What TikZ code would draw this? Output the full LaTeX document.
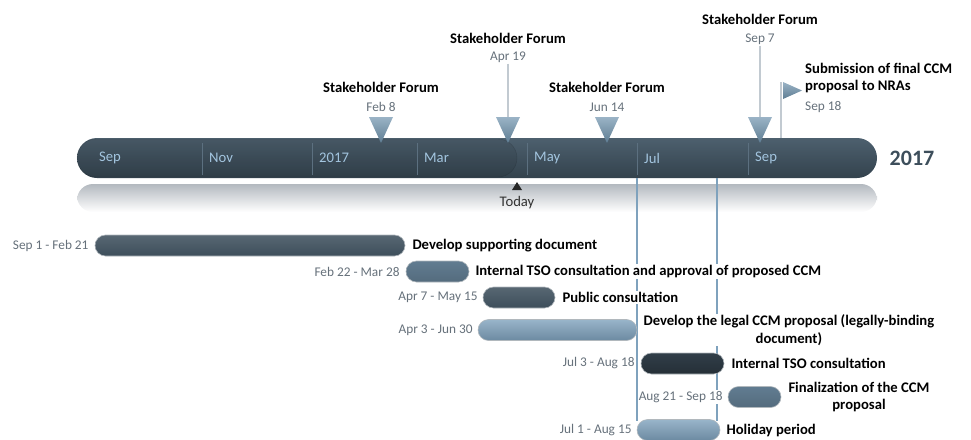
\documentclass[tikz,border=0pt]{standalone}
\usepackage{fontspec}
\setmainfont{Carlito}
\usetikzlibrary{shapes.misc}

\definecolor{slate}{HTML}{3D4E5B}
\definecolor{slatetop}{HTML}{4D606E}
\definecolor{slatebot}{HTML}{33424D}
\definecolor{monthblue}{HTML}{A3C5DF}
\definecolor{divline}{HTML}{5C7080}
\definecolor{marker}{HTML}{6F93AD}
\definecolor{stemgray}{HTML}{C2CAD1}
\definecolor{dategray}{HTML}{66717B}
\definecolor{holblue}{HTML}{7FA2BD}
\definecolor{reflgray}{HTML}{B3B9BF}

\begin{document}
\begin{tikzpicture}[x=1pt,y=-1pt,
  every node/.style={font=\fontsize{14.67}{17.6}\selectfont},
  pill/.style={shape=rounded rectangle,minimum height=21,inner sep=0,draw=white!60!slate,line width=0.6pt},
  darkbar/.style={pill,top color=black!10!slatetop!90!white,bottom color=slate},
  midbar/.style={pill,top color=holblue!55!slate,bottom color=holblue!35!slate},
  lightbar/.style={pill,top color=holblue!80!white,bottom color=holblue!85!black},
  deepbar/.style={pill,top color=slate!80!black,bottom color=slate!60!black},
  datetxt/.style={font=\fontsize{13.3}{16}\selectfont,text=dategray,fill=white,inner sep=1pt},
  task/.style={font=\fontsize{14.67}{17.6}\selectfont\bfseries,fill=white,inner sep=1pt,align=center},
  forum/.style={font=\fontsize{14.67}{17.6}\selectfont\bfseries,inner sep=0},
  stem/.style={draw=stemgray,line width=1.5pt},
  holline/.style={draw=holblue,line width=1.5pt}]
\useasboundingbox (0,0) rectangle (971,439);

% reflection under the time line
\shade[top color=reflgray,bottom color=white,rounded corners=16] (77,184) rectangle (877,212);

% time line
\node (line) at (477,158) [shape=rounded rectangle,minimum width=800,minimum height=40,inner sep=0,
  top color=slatetop,bottom color=slatebot] {};
\node (past) at (297,158) [shape=rounded rectangle,minimum width=440,minimum height=38,inner sep=0,
  fill=black,fill opacity=0.08,draw=black,draw opacity=0.15] {};
\foreach \x/\m in {92/Sep,202/Nov,312/2017,417/Mar,527/May,637/Jul,748/Sep} {
  \ifnum\x>100 \draw[divline,line width=0.8pt] (\x,143) -- (\x,175); \fi
  \node at (\x+7,158) [anchor=west,inner sep=0,text=monthblue] {\m};
}
\node (year) at (912,158) [font=\fontsize{22}{26}\selectfont\bfseries,text=slate] {2017};

% today
\fill[black!85] (517,182) -- (522,190) -- (512,190) -- cycle;
\node (today) at (517,203) [text=black!80] {Today};

% holiday period lines
\coordinate (h1top) at (637,178);
\coordinate (h1bot) at (637,421);
\coordinate (h2top) at (717,178);
\coordinate (h2bot) at (717,421);
\draw[holline] (h1top) -- (h1bot);
\draw[holline] (h2top) -- (h2bot);

% milestones
\node (f1) at (381,87) [forum] {Stakeholder Forum};
\node (d1) at (381,107) [datetxt,fill=none] {Feb 8};
\node (f2) at (508,38) [forum] {Stakeholder Forum};
\node (d2) at (508,57) [datetxt,fill=none] {Apr 19};
\node (f3) at (607,87) [forum] {Stakeholder Forum};
\node (d3) at (607,107) [datetxt,fill=none] {Jun 14};
\node (f4) at (760,19) [forum] {Stakeholder Forum};
\node (d4) at (760,39) [datetxt,fill=none] {Sep 7};
\coordinate (m1) at (381,117);
\coordinate (m2) at (508,117);
\coordinate (m3) at (607,117);
\coordinate (m4) at (760,117);
\draw[stem] (d2) -- (m2);
\draw[stem] (d4) -- (m4);
\foreach \m in {m1,m2,m3,m4}
  \shade[top color=marker!70!white,bottom color=marker!85!black] (\m) -- ++(12,0) -- ++(-12,26) -- ++(-12,-26) -- cycle;

% submission flag
\coordinate (ptop) at (781,82);
\coordinate (pbot) at (781,138);
\draw[stem] (ptop) -- (pbot);
\shade[top color=marker!70!white,bottom color=marker!85!black] (783,82) -- (802,90.5) -- (783,99) -- cycle;
\node (sub) at (805,78) [forum,anchor=west,align=left] {Submission of final CCM\\proposal to NRAs};
\node (d5) at (805,107) [datetxt,fill=none,anchor=west,inner sep=0] {Sep 18};

% activities
\node (dev) at (250,245.5) [darkbar,minimum width=310] {};
\node (tso) at (437.5,271.5) [midbar,minimum width=63] {};
\node (pub) at (519,297.5) [darkbar,minimum width=72] {};
\node (leg) at (557.5,330) [lightbar,minimum width=159] {};
\node (int) at (682.5,363.5) [deepbar,minimum width=83] {};
\node (fin) at (754.5,397) [midbar,minimum width=53] {};
\node (hol) at (678.5,430) [lightbar,minimum width=83] {};

\node at (dev.west) [datetxt,anchor=east,xshift=-5] {Sep 1 - Feb 21};
\node at (tso.west) [datetxt,anchor=east,xshift=-5] {Feb 22 - Mar 28};
\node at (pub.west) [datetxt,anchor=east,xshift=-4] {Apr 7 - May 15};
\node at (leg.west) [datetxt,anchor=east,xshift=-4] {Apr 3 - Jun 30};
\node at (int.west) [datetxt,anchor=east,xshift=-5] {Jul 3 - Aug 18};
\node at (fin.west) [datetxt,anchor=east,xshift=-4] {Aug 21 - Sep 18};
\node at (hol.west) [datetxt,anchor=east,xshift=-4] {Jul 1 - Aug 15};

\node at (dev.east) [task,anchor=west,xshift=6] {Develop supporting document};
\node at (tso.east) [task,anchor=west,xshift=5] {Internal TSO consultation and approval of proposed CCM};
\node at (pub.east) [task,anchor=west,xshift=6] {Public consultation};
\node at (leg.east) [task,anchor=west,xshift=5] {Develop the legal CCM proposal (legally-binding\\document)};
\node at (int.east) [task,anchor=west,xshift=6] {Internal TSO consultation};
\node at (fin.east) [task,anchor=west,xshift=6] {Finalization of the CCM\\proposal};
\node at (hol.east) [task,anchor=west,xshift=5] {Holiday period};
\end{tikzpicture}
\end{document}
